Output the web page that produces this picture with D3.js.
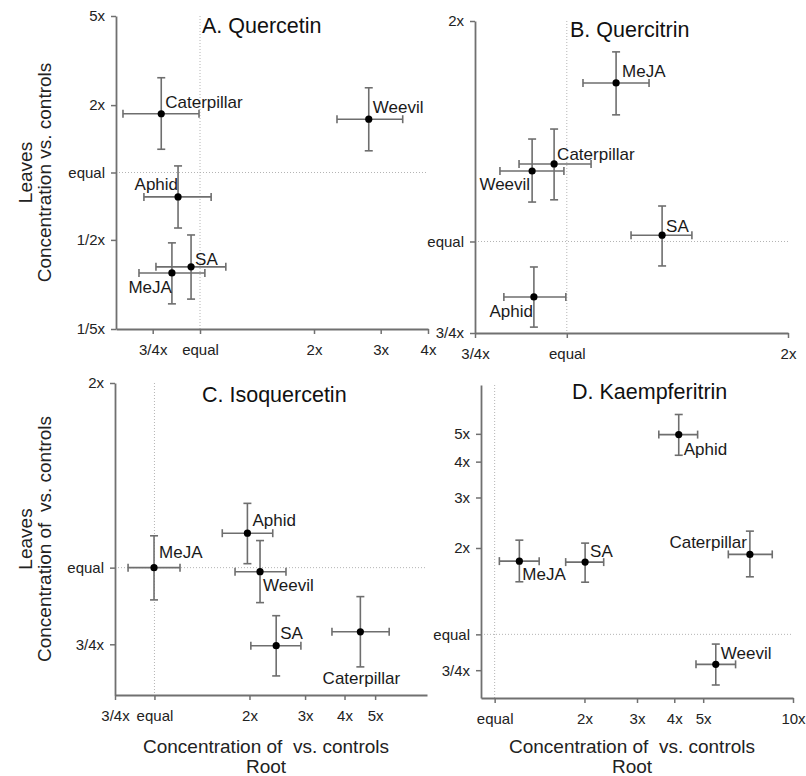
<!DOCTYPE html>
<html>
<head>
<meta charset="utf-8">
<script src="https://cdn.jsdelivr.net/npm/d3@7"></script>
<style>
  body { margin: 0; background: #fff; }
  text { font-family: 'Liberation Sans', Arial, sans-serif; }
</style>
</head>
<body>
<svg width="806" height="776"></svg>
<script>
const svg = d3.select('svg')

const treatments = ['Caterpillar', 'Weevil', 'Aphid', 'SA', 'MeJA']

// fold change vs. controls as [mean, lower, upper], in treatment order
const quercetinRoot = [[0.79, 0.626, 0.994], [2.79, 2.30, 3.43], [0.875, 0.711, 1.07], [0.947, 0.765, 1.17], [0.843, 0.69, 1.03]]
const quercetinLeaves = [[1.83, 1.27, 2.65], [1.73, 1.25, 2.39], [0.778, 0.565, 1.07], [0.379, 0.272, 0.526], [0.356, 0.259, 0.485]]

const quercitrinRoot = [[0.961, 0.861, 1.079], [0.897, 0.811, 0.991], [0.902, 0.821, 0.997], [1.348, 1.223, 1.48], [1.167, 1.052, 1.294]]
const quercitrinLeaves = [[1.276, 1.14, 1.424], [1.248, 1.132, 1.38], [0.84, 0.764, 0.923], [1.02, 0.926, 1.118], [1.646, 1.489, 1.815]]

const isoquercetinRoot = [[4.49, 3.65, 5.54], [2.16, 1.80, 2.61], [1.97, 1.64, 2.37], [2.43, 2.02, 2.91], [0.997, 0.825, 1.205]]
const isoquercetinLeaves = [[0.786, 0.689, 0.897], [0.985, 0.877, 1.107], [1.138, 1.015, 1.273], [0.746, 0.666, 0.835], [1.0, 0.886, 1.127]]

const kaempferitrinRoot = [[7.17, 6.07, 8.52], [5.51, 4.73, 6.42], [4.14, 3.55, 4.79], [2.01, 1.73, 2.32], [1.21, 1.037, 1.41]]
const kaempferitrinLeaves = [[1.90, 1.587, 2.29], [0.786, 0.666, 0.925], [4.97, 4.21, 5.84], [1.786, 1.52, 2.08], [1.80, 1.525, 2.13]]

// tick values and their labels
const ticksA_x = [0.75, 1, 2, 3, 4], labelsA_x = ['3/4x', 'equal', '2x', '3x', '4x']
const ticksA_y = [0.2, 0.5, 1, 2, 5], labelsA_y = ['1/5x', '1/2x', 'equal', '2x', '5x']
const ticksB_x = [0.75, 1, 2], labelsB_x = ['3/4x', 'equal', '2x']
const ticksB_y = [0.75, 1, 2], labelsB_y = ['3/4x', 'equal', '2x']
const ticksC_x = [0.75, 1, 2, 3, 4, 5], labelsC_x = ['3/4x', 'equal', '2x', '3x', '4x', '5x']
const ticksC_y = [0.75, 1, 2], labelsC_y = ['3/4x', 'equal', '2x']
const ticksD_x = [1, 2, 3, 4, 5, 10], labelsD_x = ['equal', '2x', '3x', '4x', '5x', '10x']
const ticksD_y = [0.75, 1, 2, 3, 4, 5], labelsD_y = ['3/4x', 'equal', '2x', '3x', '4x', '5x']

// label placement next to each dot: [dx, dy, anchor]
const placeA = [[4, -6, 'start'], [4, -6, 'start'], [0, -7, 'end'], [4, -2, 'start'], [0, 20, 'end']]
const placeB = [[3, -4, 'start'], [-2, 19, 'end'], [-1, 20, 'end'], [4, -3, 'start'], [6, -6, 'start']]
const placeC = [[1, 52, 'middle'], [3, 19, 'start'], [5, -7, 'start'], [4, -7, 'start'], [5, -10, 'start']]
const placeD = [[-3, -6, 'end'], [5, -5, 'start'], [5, 20, 'start'], [5, -5, 'start'], [3, 19, 'start']]

const panels = [
    { title: 'A. Quercetin', root: quercetinRoot, leaves: quercetinLeaves, place: placeA,
      xDomain: [0.6, 4], yDomain: [0.2, 5], xRange: [116, 428], yRange: [329, 16],
      xTicks: ticksA_x, xLabels: labelsA_x, yTicks: ticksA_y, yLabels: labelsA_y,
      titlePos: [202, 33], yTitle: true, xTitle: false },
    { title: 'B. Quercitrin', root: quercitrinRoot, leaves: quercitrinLeaves, place: placeB,
      xDomain: [0.75, 2], yDomain: [0.75, 2], xRange: [475, 788], yRange: [333, 21],
      xTicks: ticksB_x, xLabels: labelsB_x, yTicks: ticksB_y, yLabels: labelsB_y,
      titlePos: [570, 37], yTitle: false, xTitle: false },
    { title: 'C. Isoquercetin', root: isoquercetinRoot, leaves: isoquercetinLeaves, place: placeC,
      xDomain: [0.75, 7.3], yDomain: [0.62, 2], xRange: [115, 427], yRange: [695, 383],
      xTicks: ticksC_x, xLabels: labelsC_x, yTicks: ticksC_y, yLabels: labelsC_y,
      titlePos: [202, 402], yTitle: true, xTitle: true },
    { title: 'D. Kaempferitrin', root: kaempferitrinRoot, leaves: kaempferitrinLeaves, place: placeD,
      xDomain: [0.9, 10], yDomain: [0.6, 7.4], xRange: [481, 793], yRange: [698, 385],
      xTicks: ticksD_x, xLabels: labelsD_x, yTicks: ticksD_y, yLabels: labelsD_y,
      titlePos: [572, 399], yTitle: false, xTitle: true }
]

const axisColor = '#707070', barColor = '#6e6e6e', refColor = '#b4b4b4'
const cap = 4

const drawPanel = (g, p) => {
    const x = d3.scaleLog().domain(p.xDomain).range(p.xRange)
    const y = d3.scaleLog().domain(p.yDomain).range(p.yRange)

    // dotted "equal" reference lines
    g.append('line')
        .attr('x1', x(1)).attr('x2', x(1))
        .attr('y1', p.yRange[1]).attr('y2', p.yRange[0])
        .attr('stroke', refColor).attr('stroke-dasharray', '1,2')
    g.append('line')
        .attr('x1', p.xRange[0]).attr('x2', p.xRange[1])
        .attr('y1', y(1)).attr('y2', y(1))
        .attr('stroke', refColor).attr('stroke-dasharray', '1,2')

    const xAxis = g.append('g')
        .attr('transform', `translate(0, ${p.yRange[0]})`)
        .call(d3.axisBottom(x).tickValues(p.xTicks)
            .tickFormat((d, i) => p.xLabels[i]).tickSize(5).tickSizeOuter(0).tickPadding(10))
    const yAxis = g.append('g')
        .attr('transform', `translate(${p.xRange[0]}, 0)`)
        .call(d3.axisLeft(y).tickValues(p.yTicks)
            .tickFormat((d, i) => p.yLabels[i]).tickSize(5).tickSizeOuter(0).tickPadding(6))

    for (const ax of [xAxis, yAxis]) {
        ax.select('.domain').attr('stroke', axisColor).attr('stroke-width', 1.8)
        ax.selectAll('.tick line').attr('stroke', axisColor).attr('stroke-width', 1.5)
        ax.selectAll('.tick text')
            .attr('fill', '#222')
            .style('font-size', '15px')
            .style('font-family', "'Liberation Sans', Arial, sans-serif")
    }

    const rows = treatments.map((t, i) => ({
        name: t,
        x: p.root[i][0], xlo: p.root[i][1], xhi: p.root[i][2],
        y: p.leaves[i][0], ylo: p.leaves[i][1], yhi: p.leaves[i][2],
        place: p.place[i]
    }))

    const pts = g.selectAll('g.pt').data(rows).enter().append('g').attr('class', 'pt')

    const bar = (sel, x1, y1, x2, y2) => sel.append('line')
        .attr('x1', x1).attr('y1', y1).attr('x2', x2).attr('y2', y2)
        .attr('stroke', barColor).attr('stroke-width', 1.6)

    pts.each(function (d) {
        const s = d3.select(this)
        const cx = x(d.x), cy = y(d.y)
        bar(s, x(d.xlo), cy, x(d.xhi), cy)
        bar(s, x(d.xlo), cy - cap, x(d.xlo), cy + cap)
        bar(s, x(d.xhi), cy - cap, x(d.xhi), cy + cap)
        bar(s, cx, y(d.ylo), cx, y(d.yhi))
        bar(s, cx - cap, y(d.ylo), cx + cap, y(d.ylo))
        bar(s, cx - cap, y(d.yhi), cx + cap, y(d.yhi))
        s.append('circle')
            .attr('cx', cx).attr('cy', cy).attr('r', 3.6)
            .attr('fill', '#000')
        s.append('text')
            .attr('x', cx + d.place[0]).attr('y', cy + d.place[1])
            .attr('text-anchor', d.place[2])
            .style('font-size', '17px')
            .attr('fill', '#1a1a1a')
            .text(d.name)
    })

    g.append('text')
        .attr('x', p.titlePos[0]).attr('y', p.titlePos[1])
        .style('font-size', '21.5px')
        .attr('fill', '#111')
        .text(p.title)

    const midY = (p.yRange[0] + p.yRange[1]) / 2
    const midX = (p.xRange[0] + p.xRange[1]) / 2

    if (p.yTitle) {
        const yt = g.append('text')
            .attr('transform', `translate(0, ${midY}) rotate(-90)`)
            .attr('text-anchor', 'middle')
            .style('font-size', '19px')
            .style('white-space', 'pre')
            .attr('fill', '#222')
        yt.append('tspan').attr('x', 0).attr('y', 32).text('Leaves')
        yt.append('tspan').attr('x', 0).attr('y', 51)
            .text(p.xTitle ? 'Concentration of  vs. controls' : 'Concentration vs. controls')
    }

    if (p.xTitle) {
        const xt = g.append('text')
            .attr('text-anchor', 'middle')
            .style('font-size', '19px')
            .style('white-space', 'pre')
            .attr('fill', '#222')
        xt.append('tspan').attr('x', midX - 5).attr('y', 753).text('Concentration of  vs. controls')
        xt.append('tspan').attr('x', midX - 5).attr('y', 773).text('Root')
    }
}

panels.forEach(p => svg.append('g').call(drawPanel, p))
</script>
</body>
</html>
